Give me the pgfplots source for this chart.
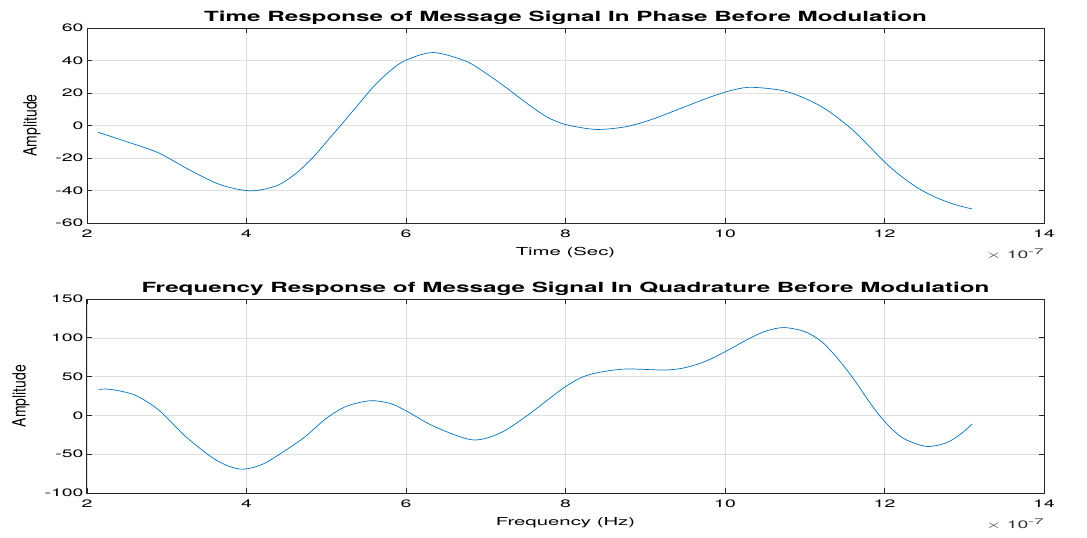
\documentclass[border=0pt]{standalone}
\usepackage{pgfplots}
\pgfplotsset{compat=1.18}
\usepackage{fontspec}
\setmainfont{TeX Gyre Heros}
\definecolor{mblue}{rgb}{0,0.447,0.741}
\definecolor{maxis}{rgb}{0.15,0.15,0.15}
\newcommand{\sx}[1]{\scalebox{1.8}[1]{#1}}
\pgfplotsset{
  mstyle/.style={
    scale only axis, width=957pt, height=195pt,
    xmin=2, xmax=14, xtick={2,4,...,14},
    axis line style={maxis, line width=1pt},
    tick style={maxis, line width=0.8pt},
    major tick length=5pt, tick align=inside,
    grid=major, major grid style={black!13, line width=0.6pt},
    tick label style={font=\fontsize{10.8}{12}\selectfont, text=black},
    /pgf/number format/assume math mode=true,
    xticklabel={\sx{\pgfmathprintnumber{\tick}}},
    yticklabel={\sx{\pgfmathprintnumber{\tick}}},
    xticklabel style={yshift=-3pt},
    title style={font=\bfseries\fontsize{14}{16}\selectfont, yshift=-6pt},
    xlabel style={font=\fontsize{11}{13}\selectfont, yshift=-3pt},
    ylabel style={font=\fontsize{14}{16}\selectfont, yshift=8pt},
  }
}
\begin{document}
\begin{tikzpicture}
\useasboundingbox (0pt,0pt) rectangle (1087pt,-538pt);
\begin{axis}[mstyle, name=top, at={(87pt,-28pt)}, anchor=north west,
  ymin=-60, ymax=60, ytick={-60,-40,...,60},
  title={\scalebox{1.73}[1]{Time Response of Message Signal In Phase Before Modulation}},
  xlabel={\scalebox{1.85}[1]{Time (Sec)}}, ylabel={\scalebox{1}[1.3]{Amplitude}}]
\addplot[mblue, line width=0.7pt, smooth] coordinates {
(2.14,-4.2) (2.5,-10.0) (2.9,-16.9) (3.28,-27.2) (3.67,-36.4) (4.05,-40.2)
(4.38,-37) (4.62,-29.5) (4.83,-19.8) (5.03,-8.5) (5.19,0.6) (5.40,12.8)
(5.60,24.3) (5.81,34) (6.0,40.2) (6.34,44.9) (6.75,39.6) (7.03,31.2)
(7.27,22.8) (7.52,13.5) (7.77,5.2) (8.0,0.6) (8.38,-2.4) (8.75,-0.8)
(9.08,3.7) (9.49,11.4) (9.82,17.6) (10.11,22) (10.35,23.5) (10.78,20.8)
(11.21,11.6) (11.6,-2.7) (12.0,-22.4) (12.23,-32) (12.45,-39.4) (12.66,-44.6) (12.88,-48.6) (13.1,-51.4)
};
\end{axis}
\node[anchor=north east, font=\fontsize{10.8}{12}\selectfont, text=black!80, inner sep=0pt] at (top.south east) [yshift=-26pt] {\sx{$\times$ 10}\raisebox{4pt}{\scalebox{1.6}[0.75]{-7}}};
\begin{axis}[mstyle, name=bot, at={(87pt,-299pt)}, anchor=north west, height=194pt,
  ymin=-100, ymax=150, ytick={-100,-50,...,150},
  title={\scalebox{1.73}[1]{Frequency Response of Message Signal In Quadrature Before Modulation}},
  xlabel={\scalebox{1.85}[1]{Frequency (Hz)}}, ylabel={\scalebox{1}[1.3]{Amplitude}}]
\addplot[mblue, line width=0.7pt, smooth] coordinates {
(2.15,33.5) (2.3,33.5) (2.6,26.2) (2.9,6.9) (3.24,-27.5) (3.62,-57.6)
(3.92,-69.2) (4.2,-63) (4.5,-44.3) (4.74,-27) (5.0,-3.8) (5.25,11.6) (5.55,18.9)
(5.8,15.5) (6.0,6.0) (6.36,-14.6) (6.83,-31.5) (7.17,-23.2) (7.5,-1.7)
(8.0,37.1) (8.29,52.2) (8.72,59.6) (9.24,58.5) (9.5,61.5) (9.75,69.5)
(10.0,82) (10.31,99.4) (10.52,108.9) (10.74,113.2) (11.0,108) (11.21,95.2)
(11.41,73.7) (11.62,45.9) (11.82,15.9) (12.0,-7.7) (12.23,-29.1) (12.52,-39.9)
(12.77,-35.5) (12.95,-24.5) (13.1,-11.1)
};
\end{axis}
\node[anchor=north east, font=\fontsize{10.8}{12}\selectfont, text=black!80, inner sep=0pt] at (bot.south east) [yshift=-26pt] {\sx{$\times$ 10}\raisebox{4pt}{\scalebox{1.6}[0.75]{-7}}};
\end{tikzpicture}
\end{document}
